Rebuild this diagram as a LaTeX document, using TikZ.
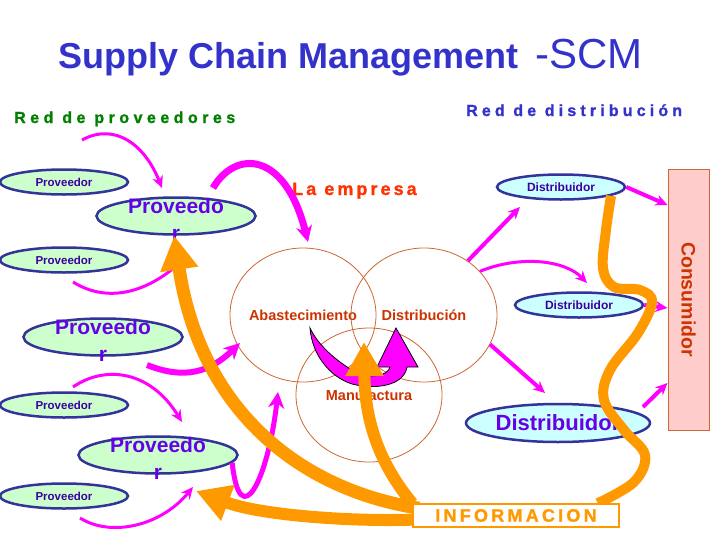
\documentclass[tikz,border=0pt]{standalone}
\usepackage{fontspec}
\setmainfont{Liberation Sans}
\definecolor{customblue}{RGB}{51,51,204}
\definecolor{customnavy}{RGB}{51,51,153}
\definecolor{customindigo}{RGB}{60,0,160}
\definecolor{custompurple}{RGB}{102,0,230}
\definecolor{customlightgreen}{RGB}{204,255,204}
\definecolor{customlightcyan}{RGB}{204,255,255}
\definecolor{custommagenta}{RGB}{255,0,255}
\definecolor{customorange}{RGB}{255,153,0}
\definecolor{custombrown}{RGB}{204,102,51}
\definecolor{customred}{RGB}{204,51,0}
\definecolor{customorangered}{RGB}{255,51,0}
\definecolor{customgreen}{RGB}{0,128,0}
\definecolor{custompink}{RGB}{255,204,204}
\usepackage{tikz}
\usetikzlibrary{arrows.meta,shapes.geometric}
\pgfdeclarelayer{front}
\pgfsetlayers{main,front}

\tikzset{
  provsmall/.style={ellipse, draw=customnavy, line width=2.5pt, fill=customlightgreen, minimum width=128pt, minimum height=25pt, inner sep=0pt, font=\bfseries\fontsize{11.5}{12}\selectfont, text=customindigo},
  provbig/.style={ellipse, draw=customnavy, line width=2.5pt, fill=customlightgreen, minimum width=159pt, minimum height=37pt, inner sep=0pt},
  provtext/.style={align=center, inner sep=0pt, yshift=-3pt, font=\bfseries\fontsize{21}{27}\selectfont, text=custompurple},
  distsmall/.style={ellipse, draw=customnavy, line width=2.5pt, fill=customlightcyan, minimum width=128pt, minimum height=25pt, inner sep=0pt, font=\bfseries\fontsize{12}{13}\selectfont, text=customindigo},
  distbig/.style={ellipse, draw=customnavy, line width=2.5pt, fill=customlightcyan, minimum width=184pt, minimum height=38pt, inner sep=0pt, font=\bfseries\fontsize{22}{24}\selectfont, text=custompurple},
  circ/.style={ellipse, draw=custombrown, line width=0.8pt, minimum width=146pt, minimum height=134pt, inner sep=0pt},
  venntext/.style={inner sep=0pt, font=\bfseries\fontsize{14.5}{16}\selectfont, text=customred},
  spaced/.style={anchor=base west, inner sep=0pt},
  pinkthin/.style={custommagenta, line width=3pt, -{Stealth[length=12pt,width=11pt,inset=4pt]}},
  pinkthick/.style={custommagenta, line width=7pt, -{Stealth[length=16pt,width=16pt,inset=5pt]}},
  orangearrow/.style={customorange, line width=13pt, -{Triangle[length=34pt,width=36pt]}}
}

\begin{document}
\begin{tikzpicture}[x=1pt, y=-1pt]
    \useasboundingbox (0,0) rectangle (728,546);

    % titles
    \node[anchor=base west, inner sep=0pt, font=\bfseries\fontsize{36}{40}\selectfont, text=customblue] (title) at (58,68) {Supply Chain Management};
    \node[anchor=base west, inner sep=0pt, font=\fontsize{42}{46}\selectfont, text=customblue] (scm) at (535,68) {-SCM};
    \node[spaced, font=\bfseries\fontsize{16}{18}\selectfont\addfontfeatures{LetterSpace=28,FakeBold=1.2}, text=customgreen] (redprov) at (14,123) {Red de proveedores};
    \node[spaced, font=\bfseries\fontsize{16}{18}\selectfont\addfontfeatures{LetterSpace=26,FakeBold=1.2}, text=customblue] (reddist) at (466,116) {Red de distribución};
    \node[spaced, font=\bfseries\fontsize{18}{20}\selectfont\addfontfeatures{LetterSpace=17,FakeBold=1.2}, text=customorangered] (empresa) at (292,195) {La empresa};

    % la empresa
    \node[circ, label={[venntext]center:Abastecimiento}] (abast) at (303,315) {};
    \node[circ, label={[venntext]center:Distribución}] (distr) at (424,315) {};
    \node[circ, label={[venntext]center:Manufactura}] (manuf) at (369,395) {};

    % proveedores
    \node[provsmall] (provA) at (64,182) {Proveedor};
    \node[provbig, label={[provtext]center:Proveedo\\r}] (provB) at (176,216) {};
    \node[provsmall] (provC) at (64,260) {Proveedor};
    \node[provbig, label={[provtext]center:Proveedo\\r}] (provD) at (103,337) {};
    \node[provsmall] (provE) at (64,405) {Proveedor};
    \node[provbig, label={[provtext]center:Proveedo\\r}] (provF) at (158,455) {};
    \node[provsmall] (provG) at (64,496) {Proveedor};

    % distribuidores
    \node[distsmall] (dist1) at (561,187) {Distribuidor};
    \node[distsmall] (dist2) at (579,305) {Distribuidor};
    \node[distbig] (dist3) at (558,423) {Distribuidor};
    \node[draw=custombrown, line width=1pt, fill=custompink, minimum width=41pt, minimum height=261pt, inner sep=0pt, font=\bfseries\fontsize{19.5}{21}\selectfont, text=customred] (cons) at (688.5,299.5) {\rotatebox{-90}{Consumidor}};

    \begin{pgfonlayer}{front}
    \node[draw=customorange, line width=1.5pt, fill=white, minimum width=206pt, minimum height=23pt, inner sep=0pt, font=\bfseries\fontsize{18}{20}\selectfont\addfontfeatures{LetterSpace=18,FakeBold=1.2}, text=customorange] (info) at (516,515.5) {INFORMACION};
    \end{pgfonlayer}

    % free ends
    \coordinate (m1s) at (82,140);   \coordinate (m1e) at (162,188);
    \coordinate (m2s) at (213,188);  \coordinate (m2e) at (308,242);
    \coordinate (m3s) at (73,282);   \coordinate (m3e) at (185,258);
    \coordinate (m4s) at (147,365);  \coordinate (m4e) at (240,343);
    \coordinate (m5s) at (73,387);   \coordinate (m5e) at (182,422);
    \coordinate (m6e) at (278,392);
    \coordinate (m7s) at (80,518);   \coordinate (m7e) at (193,487);
    \coordinate (m8e) at (520,207);
    \coordinate (m9e) at (587,283);
    \coordinate (m10e) at (545,393);
    \coordinate (m13s) at (643,407);
    \coordinate (o2e) at (196,491);
    \coordinate (o3e) at (364,342);

    % flujo de materiales
    \draw[pinkthin] (m1s) .. controls (115,122) and (145,145) .. (m1e);
    \draw[pinkthick] (m2s) .. controls (235,150) and (285,150) .. (m2e);
    \draw[pinkthin] (m3s) .. controls (110,305) and (150,290) .. (m3e);
    \draw[pinkthick, line width=6pt] (m4s) .. controls (185,380) and (210,372) .. (m4e);
    \draw[pinkthin] (m5s) .. controls (105,365) and (150,370) .. (m5e);
    \draw[pinkthick, line width=5pt] (provF.-6) .. controls (240,535) and (268,480) .. (m6e);
    \draw[pinkthin] (m7s) .. controls (110,537) and (160,527) .. (m7e);
    \draw[pinkthin, line width=4pt] (distr.51) -- (m8e);
    \draw[pinkthin] (distr.38) .. controls (520,255) and (565,260) .. (m9e);
    \draw[pinkthin, line width=4pt] (distr.-24) -- (m10e);
    \draw[pinkthin, line width=4pt] (dist1.east) -- (cons.west |- 0,205);
    \draw[pinkthin, line width=4pt] (dist2.east) -- (cons.west |- 0,308);
    \draw[pinkthin, line width=4pt] (m13s) -- (cons.west |- 0,383);

    % ciclo interno
    \fill[custommagenta, draw=black, line width=0.8pt] (310,328) .. controls (312,355) and (330,377) .. (352,384)
        .. controls (375,390) and (404,386) .. (407,367) -- (418,367) -- (396,328) -- (377,367) -- (390,367)
        .. controls (388,376) and (370,379) .. (355,372) .. controls (335,360) and (318,345) .. (310,328) -- cycle;

    % flujo de informacion
    \draw[customorange, line width=10pt] plot[smooth, tension=0.6] coordinates {(dist1.-10) (606,230) (603,268) (614,287) (640,290) (652,302) (638,333) (610,370) (604,400) (624,430) (645,455) (634,482) ([xshift=-22pt]info.north east)};
    \draw[orangearrow] ([xshift=7pt,yshift=-5pt]info.north west) .. controls (300,490) and (200,410) .. (provB.-95);
    \draw[orangearrow, line width=12pt] ([xshift=5pt,yshift=-4pt]info.west) .. controls (350,522) and (260,515) .. (o2e);
    \draw[orangearrow, line width=12pt] (info.north west) .. controls (385,470) and (365,430) .. (o3e);
\end{tikzpicture}
\end{document}
